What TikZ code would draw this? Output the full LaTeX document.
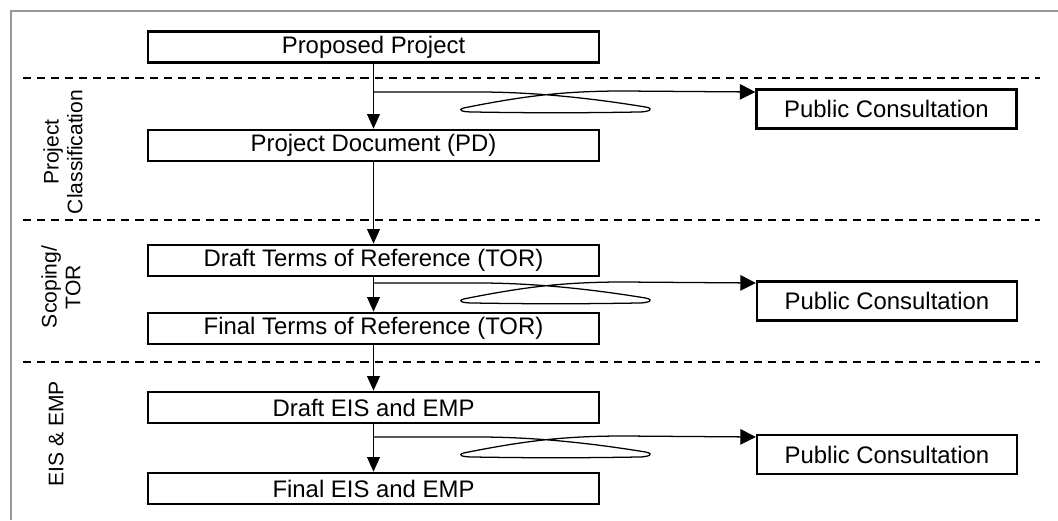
\documentclass[tikz,border=0pt]{standalone}
\usepackage{fontspec}
\setmainfont{Liberation Sans}
\usetikzlibrary{arrows.meta}

\begin{document}
\begin{tikzpicture}[
		x=0.025cm, y=-0.025cm,
		every node/.style={font=\fontsize{17}{20}\selectfont},
		stepbox/.style={draw, line width=1.6pt, minimum width=11.28cm,
		                minimum height=0.78cm, inner sep=0pt},
		pcbox/.style={draw, line width=1.6pt, minimum width=6.5cm,
		              minimum height=0.97cm, inner sep=0pt},
		phase/.style={rotate=90, align=center, font=\fontsize{15}{16.8}\selectfont},
		flow/.style={line width=1.4pt, -{Triangle[length=10.5pt, width=9pt]}},
		sep/.style={line width=1.2pt, dash pattern=on 5.7pt off 4.3pt},
		consult/.style={line width=0.9pt, -{Triangle[length=11pt, width=11pt]},
		  to path={-- ++(105,0)
		    .. controls +(55,0) and +(-55,-9) .. ++(167,15)
		    .. controls +(10,2) and +(10,0) .. ++(-7,5)
		    .. controls +(-60,1) and +(60,1) .. ++(-165,0)
		    .. controls +(-12,0) and +(-6,2) .. ++(-10,-4)
		    .. controls +(60,-12) and +(-60,0) .. ++(160,-17)
		    -- (\tikztotarget) \tikztonodes}}
	]
	\useasboundingbox (0,0) rectangle (1058,520);
	% frame and phase separators
	\draw[gray!80, line width=0.8pt] (11,520) -- (11,11) -- (1058,11);
	\draw[sep] (23,78) -- (1040,78);
	\draw[sep] (23,220) -- (1040,220);
	\draw[sep] (23,362) -- (1040,362);

	\node[phase] (ph1) at (63,152) {Project\\Classification};
	\node[phase] (ph2) at (61,287) {Scoping/\\TOR};
	\node[phase] (ph3) at (56,434) {EIS \& EMP};

	% main steps
	\node[stepbox] (prop) at (373.5,47) {Proposed Project};
	\node[stepbox] (pd) at (373.5,145.5) {Project Document (PD)};
	\node[stepbox] (dtor) at (373.5,260.5) {Draft Terms of Reference (TOR)};
	\node[stepbox] (ftor) at (373.5,328.5) {Final Terms of Reference (TOR)};
	\node[stepbox] (deis) at (373.5,407.5) {Draft EIS and EMP};
	\node[stepbox] (feis) at (373.5,488.5) {Final EIS and EMP};

	% consultations
	\node[pcbox] (pc1) at (886.5,109) {Public Consultation};
	\node[pcbox] (pc2) at (887,301) {Public Consultation};
	\node[pcbox] (pc3) at (887,454.5) {Public Consultation};

	\draw[flow] (prop) -- (pd);
	\draw[flow] (pd) -- (dtor);
	\draw[flow] (dtor) -- (ftor);
	\draw[flow] (ftor) -- (deis);
	\draw[flow] (deis) -- (feis);

	\coordinate (j1) at (373.5,92);
	\coordinate (j2) at (373.5,283);
	\coordinate (j3) at (373.5,437);
	\draw[consult] (j1) to (j1 -| pc1.west);
	\draw[consult] (j2) to (j2 -| pc2.west);
	\draw[consult] (j3) to (j3 -| pc3.west);
\end{tikzpicture}
\end{document}
